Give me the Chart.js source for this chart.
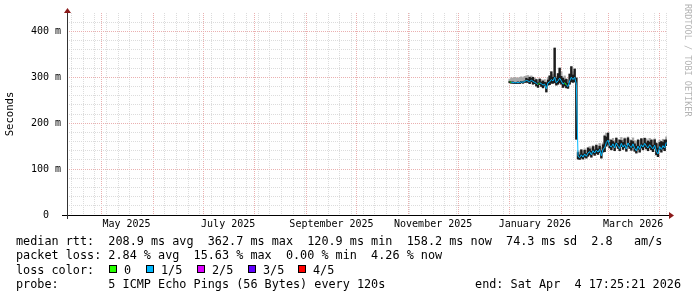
<!DOCTYPE html>
<html>
<head>
<meta charset="utf-8">
<script src="https://cdn.jsdelivr.net/npm/chart.js@4.4.1/dist/chart.umd.min.js"></script>
<style>
  html, body { margin: 0; padding: 0; background: #fff; }
  #wrap { position: relative; width: 697px; height: 297px; overflow: hidden; background: #fff; }
  #c { position: absolute; left: 0; top: 0; }
  .leg { position: absolute; font-family: "DejaVu Sans Mono", monospace; font-size: 11.8px;
         line-height: 14px; white-space: pre; color: #000; }
  .box { position: absolute; width: 6px; height: 6px; border: 1px solid #000; }
  #mark { position: absolute; left: 683px; top: 4px; writing-mode: vertical-rl;
          font-family: "DejaVu Sans Mono", monospace; font-size: 8.5px; line-height: 10px;
          color: #b4b4b4; white-space: pre; }
</style>
</head>
<body>
<div id="wrap">
  <canvas id="c" width="697" height="297"></canvas>
  <div id="mark">RRDTOOL / TOBI OETIKER</div>
</div>
<script>
// time axis is in days since 2025-01-01, 360 day window ending Apr 2026
const START = 99.3, END = 459.3;
const firstSample = 364.9;

const monthStarts = [120, 151, 181, 212, 243, 273, 304, 334, 365, 396, 424, 455];
const labelDays = [135, 196, 258, 319, 380, 439];
const labelNames = ["May 2025", "July 2025", "September 2025", "November 2025", "January 2026", "March 2026"];

// median rtt (ms), one value per day
const median = [
  290, 289, 289, 288, 288, 289, 288, 290, 289, 291,
  293, 292, 290, 294, 291, 289, 287, 284, 288, 286,
  283, 285, 275, 288, 290, 295, 292, 300, 288, 292,
  298, 292, 285, 288, 283, 280, 292, 300, 295, 300,
  285, 128, 125, 131, 126, 133, 128, 135, 138, 131,
  140, 135, 141, 137, 143, 129, 143, 146, 158, 163,
  151, 148, 155, 146, 157, 150, 145, 156, 148, 153,
  144, 157, 150, 147, 155, 145, 140, 150, 143, 153,
  148, 156, 150, 146, 153, 148, 144, 152, 139, 133,
  149, 143, 151, 146, 158
];
// dense smoke range (ms)
const coreLo = [
  288, 287, 287, 286, 286, 287, 286, 288, 287, 289,
  289, 289, 286, 290, 285, 286, 281, 278, 284, 280,
  277, 281, 268, 283, 284, 287, 287, 288, 283, 285,
  288, 285, 278, 281, 277, 276, 285, 290, 289, 290,
  165, 122, 121, 124, 122, 126, 124, 128, 131, 126,
  133, 130, 134, 132, 136, 124, 137, 138, 150, 154,
  146, 142, 148, 140, 150, 145, 140, 149, 143, 147,
  139, 149, 145, 141, 147, 139, 135, 143, 137, 146,
  142, 148, 144, 140, 146, 142, 138, 145, 131, 127,
  142, 137, 144, 140, 151
];
const coreHi = [
  291, 290, 290, 289, 289, 290, 289, 291, 290, 292,
  298, 296, 300, 298, 300, 293, 295, 288, 296, 290,
  292, 289, 288, 294, 303, 312, 300, 363, 298, 308,
  320, 302, 298, 294, 296, 287, 307, 323, 305, 318,
  298, 136, 131, 142, 133, 141, 134, 146, 144, 139,
  149, 142, 152, 144, 150, 140, 153, 172, 170, 178,
  158, 163, 160, 157, 167, 156, 163, 162, 158, 166,
  152, 168, 156, 162, 160, 155, 150, 163, 150, 166,
  155, 167, 157, 161, 159, 163, 152, 164, 156, 146,
  158, 160, 158, 163, 164
];
// light smoke top (ms)
const smokeHi = [
  296, 299, 298, 300, 299, 298, 300, 301, 299, 302,
  303, 304, 301, 303, 300, 298, 296, 293, 297, 295,
  292, 295, 290, 300, 303, 312, 306, 365, 302, 308,
  320, 312, 300, 303, 296, 294, 307, 324, 312, 318,
  300, 140, 138, 142, 139, 144, 141, 147, 149, 146,
  151, 149, 153, 150, 156, 147, 157, 174, 178, 180,
  165, 164, 167, 162, 169, 164, 165, 169, 163, 168,
  166, 170, 164, 163, 168, 162, 160, 165, 163, 167,
  164, 168, 166, 163, 167, 165, 162, 166, 158, 154,
  163, 161, 165, 164, 170
];
// lost pings per sample (index into lossColors)
const loss = [
  0, 1, 1, 1, 1, 1, 1, 1, 1, 1,
  1, 1, 1, 1, 1, 1, 1, 0, 1, 1,
  1, 1, 1, 1, 1, 1, 1, 1, 1, 1,
  1, 1, 1, 0, 1, 1, 1, 1, 1, 1,
  1, 1, 1, 1, 1, 1, 1, 1, 1, 1,
  1, 1, 1, 1, 1, 1, 1, 1, 1, 1,
  1, 1, 1, 1, 1, 1, 1, 1, 1, 1,
  1, 1, 1, 1, 1, 1, 1, 1, 1, 1,
  1, 1, 1, 1, 1, 1, 1, 1, 1, 1,
  1, 1, 1, 1, 1
];

const lossColors = ["#26ff00", "#00b8ff", "#dd00ff", "#6000ff", "#ff0000"];
const lossLabels = ["0", "1/5", "2/5", "3/5", "4/5"];

const rttLine = "median rtt:  208.9 ms avg  362.7 ms max  120.9 ms min  158.2 ms now  74.3 ms sd  2.8   am/s";
const lossLine = "packet loss: 2.84 % avg  15.63 % max  0.00 % min  4.26 % now";
const probeLine = "probe:       5 ICMP Echo Pings (56 Bytes) every 120s";
const endLine = "end: Sat Apr  4 17:25:21 2026";
const boxX = [109, 146, 197, 248, 298];

// legend lines
const wrap = document.getElementById("wrap");
function addText(txt, x, y, right) {
  const d = document.createElement("div");
  d.className = "leg";
  d.textContent = txt;
  d.style.top = y + "px";
  if (right) d.style.right = (697 - x) + "px";
  else d.style.left = x + "px";
  wrap.appendChild(d);
}
addText(rttLine, 16, 234);
addText(lossLine, 16, 248);
addText("loss color:", 16, 262.5);
lossLabels.forEach((t, i) => {
  const b = document.createElement("div");
  b.className = "box";
  b.style.left = boxX[i] + "px";
  b.style.top = "265px";
  b.style.background = lossColors[i];
  wrap.appendChild(b);
  addText(t, boxX[i] + 15, 262.5);
});
addText(probeLine, 16, 276.5);
addText(endLine, 681, 276.5, true);

// chart data
const points = (arr) => arr.map((v, i) => ({ x: firstSample + i, y: v }));
const ranges = (lo, hi) => lo.map((v, i) => ({ x: firstSample + i, y: [v, hi[i]] }));

const weekTicks = [];
for (let d = 102; d < END; d += 7) weekTicks.push(d);

const mono = "DejaVu Sans Mono";

const axesPlugin = {
  id: "rrdAxes",
  afterDatasetsDraw(chart) {
    const ctx = chart.ctx;
    const a = chart.chartArea;
    ctx.save();
    ctx.lineWidth = 1;
    ctx.strokeStyle = "#000";
    ctx.beginPath();
    ctx.moveTo(62, a.bottom + 0.5);
    ctx.lineTo(670, a.bottom + 0.5);
    ctx.stroke();
    ctx.strokeStyle = "#333";
    ctx.beginPath();
    ctx.moveTo(a.left + 0.5, a.bottom + 4);
    ctx.lineTo(a.left + 0.5, 11);
    ctx.stroke();
    ctx.fillStyle = "#8b1a1a";
    ctx.beginPath();
    ctx.moveTo(669, a.bottom - 3);
    ctx.lineTo(674, a.bottom + 0.5);
    ctx.lineTo(669, a.bottom + 4);
    ctx.closePath();
    ctx.fill();
    ctx.beginPath();
    ctx.moveTo(a.left - 3, 13);
    ctx.lineTo(a.left + 0.5, 8);
    ctx.lineTo(a.left + 4, 13);
    ctx.closePath();
    ctx.fill();
    ctx.restore();
  }
};

const gridOnly = (ticks, color, weight, horiz) => ({
  type: "linear",
  min: horiz ? START : 0,
  max: horiz ? END : 440,
  position: horiz ? "bottom" : "left",
  weight: weight,
  offset: false,
  afterBuildTicks: (s) => { s.ticks = ticks.map((v) => ({ value: v })); },
  afterFit: (s) => { if (horiz) s.height = 0; else s.width = 0; },
  ticks: { display: false },
  grid: { color: color, drawTicks: false, offset: false, lineWidth: 1 },
  border: { display: false, dash: [1, 1] }
});

new Chart(document.getElementById("c"), {
  type: "bar",
  data: {
    datasets: [
      {
        type: "line",
        label: "median",
        data: points(median),
        borderColor: "#00b8ff",
        borderWidth: 1,
        pointRadius: 0,
        tension: 0,
        order: 1,
        segment: { borderColor: (c) => lossColors[loss[c.p0DataIndex]] }
      },
      {
        label: "core",
        data: ranges(coreLo, coreHi),
        backgroundColor: "#1c1c1c",
        borderWidth: 0,
        grouped: false,
        barPercentage: 1,
        categoryPercentage: 1,
        order: 2
      },
      {
        label: "smoke",
        data: ranges(coreLo, smokeHi),
        backgroundColor: "#a8a8a8",
        borderWidth: 0,
        grouped: false,
        barPercentage: 1,
        categoryPercentage: 1,
        order: 3
      }
    ]
  },
  options: {
    responsive: false,
    animation: false,
    events: [],
    layout: { padding: { left: 0, top: 13, right: 30, bottom: 0 } },
    plugins: { legend: { display: false }, tooltip: { enabled: false } },
    scales: {
      x: gridOnly(weekTicks, "#dcdcdc", 0, true),
      xMonth: gridOnly(monthStarts, "#eab0b0", 1, true),
      xLabel: {
        type: "linear",
        min: START,
        max: END,
        position: "bottom",
        weight: 2,
        offset: false,
        afterBuildTicks: (s) => { s.ticks = labelDays.map((v) => ({ value: v })); },
        afterFit: (s) => { s.height = 82; },
        grid: { display: false, drawTicks: false },
        border: { display: false },
        ticks: {
          autoSkip: false,
          maxRotation: 0,
          minRotation: 0,
          padding: 3,
          color: "#000",
          font: { family: mono, size: 10 },
          callback: (v, i) => labelNames[i]
        }
      },
      y: gridOnly([20, 40, 60, 80, 120, 140, 160, 180, 220, 240, 260, 280, 320, 340, 360, 380, 420], "#dcdcdc", 0, false),
      yMajor: {
        type: "linear",
        min: 0,
        max: 440,
        position: "left",
        weight: 1,
        afterBuildTicks: (s) => { s.ticks = [0, 100, 200, 300, 400].map((v) => ({ value: v })); },
        afterFit: (s) => { s.width = 67; },
        grid: { color: (c) => (c.tick && c.tick.value === 0 ? "rgba(0,0,0,0)" : "#eab0b0"), drawTicks: false },
        border: { display: false, dash: [1, 1] },
        ticks: {
          autoSkip: false,
          padding: 6,
          color: "#000",
          font: { family: mono, size: 10 },
          callback: (v) => (v === 0 ? "0  " : v + " m")
        },
        title: {
          display: true,
          text: "Seconds",
          color: "#000",
          font: { family: mono, size: 10.6 },
          padding: { top: 4, bottom: 0 }
        }
      }
    }
  },
  plugins: [axesPlugin]
});
</script>
</body>
</html>
